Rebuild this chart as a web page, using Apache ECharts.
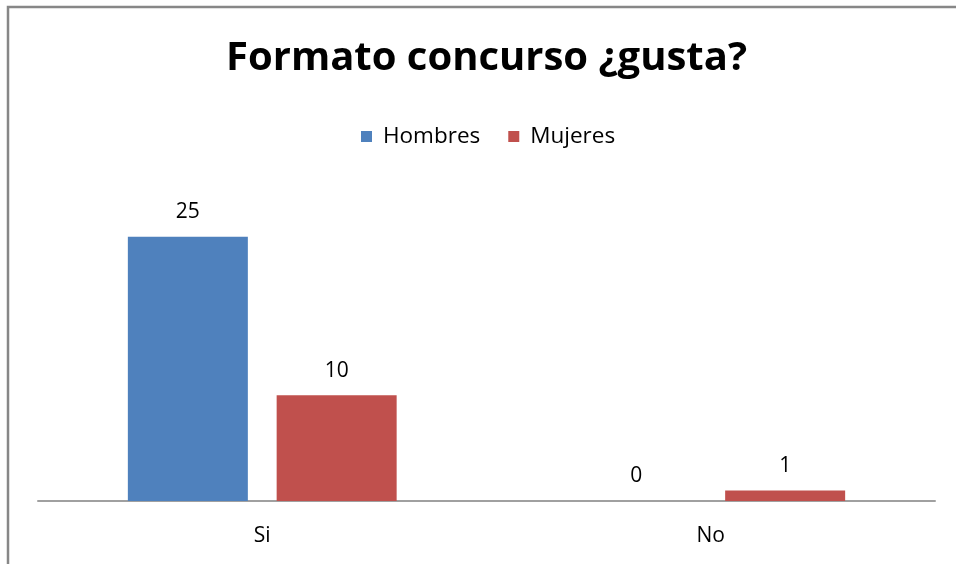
<!DOCTYPE html>
<html>
<head>
<meta charset="utf-8">
<script src="https://cdn.jsdelivr.net/npm/echarts@6/dist/echarts.min.js"></script>
<style>
  html, body { margin: 0; padding: 0; background: #fff; }
  #chart { width: 956px; height: 564px; }
</style>
</head>
<body>
<div id="chart"></div>
<script>
const categories = ["Si", "No"];
const hombres = [25, 0];
const mujeres = [10, 1];
const seriesNames = ["Hombres", "Mujeres"];

const font = "'Open Sans', Lato, sans-serif";

const chart = echarts.init(document.getElementById("chart"));
chart.setOption({
  backgroundColor: "#fff",
  animation: false,
  title: {
    text: "Formato concurso ¿gusta?",
    left: 226,
    top: 39,
    padding: 0,
    textStyle: { fontFamily: font, fontWeight: "bold", fontSize: 40, color: "#000" }
  },
  legend: {
    data: seriesNames,
    top: 120,
    left: 356,
    itemWidth: 11,
    itemHeight: 11,
    itemGap: 28,
    icon: "rect",
    textStyle: { fontFamily: font, fontSize: 22.5, color: "#000", padding: [0, 0, 0, 6] }
  },
  graphic: [{
    type: "rect",
    shape: { x: 8, y: 7, width: 980, height: 600 },
    style: { fill: "none", stroke: "#878787", lineWidth: 2.5 },
    silent: true
  }],
  grid: { left: 38, right: 21, top: 184, bottom: 63 },
  xAxis: {
    type: "category",
    data: categories,
    axisLine: { lineStyle: { color: "#a0a0a0", width: 2 } },
    axisTick: { show: false },
    axisLabel: { fontFamily: font, fontSize: 21, color: "#000", margin: 25 }
  },
  yAxis: {
    type: "value",
    min: 0,
    max: 30,
    show: false,
    splitLine: { show: false }
  },
  series: [
    {
      name: seriesNames[0],
      type: "bar",
      data: hombres,
      barWidth: 120,
      barGap: "24%",
      itemStyle: { color: "#4f81bd" },
      label: { show: true, position: "top", distance: 14, fontFamily: font, fontSize: 21, color: "#000" }
    },
    {
      name: seriesNames[1],
      type: "bar",
      data: mujeres,
      barWidth: 120,
      barGap: "24%",
      itemStyle: { color: "#c0504d" },
      label: { show: true, position: "top", distance: 14, fontFamily: font, fontSize: 21, color: "#000" }
    }
  ]
});
</script>
</body>
</html>
